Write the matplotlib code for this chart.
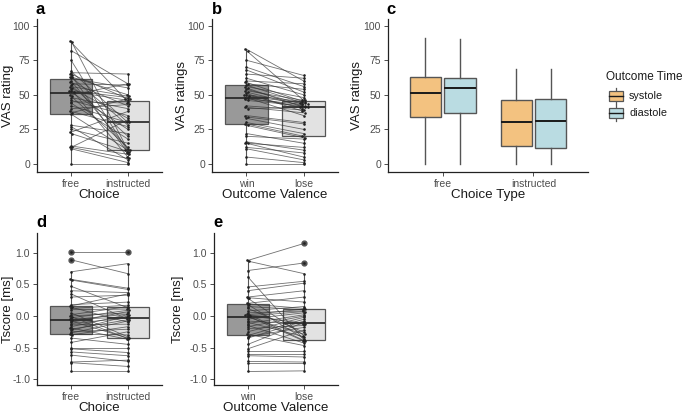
import numpy as np
import matplotlib
matplotlib.use("Agg")
import matplotlib.pyplot as plt
from matplotlib.patches import Rectangle

plt.rcParams['font.family'] = ['Liberation Sans', 'DejaVu Sans']

# ---------------- data ----------------
# Panel a: VAS rating, free vs instructed (paired)
a_free = [89, 88, 82, 75, 67, 66, 65, 64, 63, 63, 62, 60, 59, 58, 57, 56, 55, 54, 53, 52.5, 52,
          50, 49, 48, 46, 45, 44, 42, 40, 38, 37, 36, 28, 27, 25, 23, 22, 13, 12, 12, 11, 0]
a_instr = [10, 45, 58, 9, 30, 65, 47, 8, 50, 28, 55, 11, 42, 57, 20, 49, 33, 5, 48, 46, 25,
           58, 12, 40, 35, 44, 18, 30, 43, 27, 47, 10, 22, 3, 15, 38, 9, 7, 32, 4, 1, 0]
a_cats = ["free", "instructed"]

# Panel b: VAS ratings, win vs lose (paired)
b_win = [83, 82, 75, 70, 68, 65, 62, 60, 59, 58, 57, 56, 55, 54, 53, 52, 51, 50, 50, 49, 48,
         48, 47, 46, 42, 41, 40, 35, 34, 33, 30, 29, 28, 22, 20, 16, 15, 15, 12, 11, 5, 0]
b_lose = [60, 46, 64, 56, 52, 62, 50, 58, 45, 54, 44, 48, 41, 43, 46, 42, 38, 45, 40, 44, 41,
          35, 43, 42, 39, 37, 41, 30, 29, 25, 22, 20, 19, 15, 18, 10, 12, 5, 8, 3, 1, 0]
b_cats = ["win", "lose"]

# Panel c: box statistics by choice type and outcome time
c_cats = ["free", "instructed"]
c_groups = ["systole", "diastole"]
c_whislo = {"systole": [0, 0], "diastole": [0, 0]}
c_q1 = {"systole": [34, 13], "diastole": [36.5, 11.5]}
c_med = {"systole": [51, 30], "diastole": [55, 31]}
c_q3 = {"systole": [63, 46.5], "diastole": [62.5, 47]}
c_whishi = {"systole": [91, 68.5], "diastole": [90, 68.5]}

# Panel d: Tscore, free vs instructed (paired)
d_free = [1.01, 0.89, 0.70, 0.58, 0.57, 0.47, 0.40, 0.35, 0.30, 0.18, 0.16, 0.14, 0.12, 0.10,
          0.05, 0.02, 0.0, -0.01, -0.03, -0.05, -0.06, -0.08, -0.10, -0.12, -0.14, -0.17, -0.19,
          -0.21, -0.23, -0.25, -0.27, -0.29, -0.30, -0.35, -0.42, -0.50, -0.52, -0.57, -0.62,
          -0.73, -0.74, -0.88]
d_instr = [1.01, 0.67, 0.83, 0.44, 0.42, 0.13, 0.37, -0.05, 0.33, 0.22, 0.35, -0.10, 0.17, 0.11,
           -0.33, 0.15, 0.05, -0.36, 0.09, -0.02, 0.03, -0.35, 0.07, -0.03, -0.13, 0.02, -0.37,
           -0.06, 0.0, -0.21, -0.08, -0.30, -0.17, -0.45, -0.25, -0.50, -0.58, -0.63, -0.72,
           -0.70, -0.80, -0.88]

# Panel e: Tscore, win vs lose (paired)
e_win = [0.88, 0.87, 0.72, 0.62, 0.46, 0.40, 0.30, 0.29, 0.28, 0.20, 0.19, 0.18, 0.15, 0.12,
         0.08, 0.05, 0.03, 0.02, 0.01, 0.0, 0.0, -0.02, -0.05, -0.08, -0.10, -0.12, -0.15, -0.17,
         -0.20, -0.25, -0.29, -0.31, -0.33, -0.35, -0.45, -0.52, -0.55, -0.60, -0.63, -0.72,
         -0.75, -0.88]
e_lose = [1.15, 0.67, 0.84, -0.38, 0.55, 0.52, 0.40, 0.22, -0.31, 0.30, 0.12, -0.36, 0.10, -0.26,
          0.15, 0.08, -0.39, 0.11, -0.12, -0.40, 0.07, -0.29, 0.05, -0.13, -0.33, 0.02, -0.43,
          0.0, -0.15, -0.02, -0.47, -0.05, -0.18, -0.08, -0.10, -0.22, -0.55, -0.60, -0.65,
          -0.73, -0.75, -0.87]

# ---------------- layout ----------------
W, H = 685, 415
fig = plt.figure(figsize=(W / 100, H / 100), dpi=100)


def ax_at(l, r, t, b):
    return fig.add_axes([l / W, 1 - b / H, (r - l) / W, (b - t) / H])


TICK_C = "#4d4d4d"
BOX_FILLS = ["#999999", "#e2e2e2"]


def style(ax, ylabel, xlabel, cats, ylim, yticks, yticklabels, ylab_x):
    for s in ["top", "right"]:
        ax.spines[s].set_visible(False)
    for s in ["left", "bottom"]:
        ax.spines[s].set_color("#222222")
        ax.spines[s].set_linewidth(0.9)
    ax.set_xlim(0.4, 2.6)
    ax.set_ylim(*ylim)
    ax.set_xticks([1, 2])
    ax.set_xticklabels(cats)
    ax.set_yticks(yticks)
    ax.set_yticklabels(yticklabels)
    ax.tick_params(colors=TICK_C, labelsize=7.5, length=3, width=0.7, pad=2)
    ax.set_ylabel(ylabel, fontsize=9.5, color="#1a1a1a")
    ax.set_xlabel(xlabel, fontsize=9.6, color="#1a1a1a", labelpad=0)
    l = ax.get_position().x0 * W
    w = ax.get_position().width * W
    ax.yaxis.set_label_coords((ylab_x - l) / w, 0.5)


def dot_x(vals, center, binw, dx):
    vals = np.asarray(vals, float)
    bins = np.round(vals / binw).astype(int)
    xs = np.full(len(vals), float(center))
    for bval in np.unique(bins):
        idx = np.where(bins == bval)[0]
        k = len(idx)
        xs[idx] = center + (np.arange(k) - (k - 1) / 2) * dx
    return xs


def paired_panel(ax, v1, v2, binw):
    v1 = np.asarray(v1, float)
    v2 = np.asarray(v2, float)
    bp = ax.boxplot([v1, v2], positions=[1, 2], widths=0.75, patch_artist=True,
                    whis=1.5, showcaps=False,
                    flierprops=dict(marker="o", markersize=3.5, markerfacecolor="#555555",
                                    markeredgecolor="#555555"),
                    medianprops=dict(color="#222222", linewidth=1.2),
                    whiskerprops=dict(color="#555555", linewidth=0.8),
                    boxprops=dict(linewidth=0.9), zorder=1)
    for patch, fc in zip(bp["boxes"], BOX_FILLS):
        patch.set_facecolor(fc)
        patch.set_edgecolor("#555555")
    for a, b in zip(v1, v2):
        ax.plot([1, 2], [a, b], color="#333333", lw=0.6, alpha=0.7, zorder=3)
    x1 = dot_x(v1, 1, binw, 0.045)
    x2 = dot_x(v2, 2, binw, 0.045)
    ax.scatter(x1, v1, s=3.5, color="#222222", zorder=4, linewidths=0)
    ax.scatter(x2, v2, s=3.5, color="#222222", zorder=4, linewidths=0)


vas_ticks = [0, 25, 50, 75, 100]
vas_lbl = ["0", "25", "50", "75", "100"]
vas_lim = (-5.8, 104.8)
t_ticks = [-1.0, -0.5, 0.0, 0.5, 1.0]
t_lbl = ["-1.0", "-0.5", "0.0", "0.5", "1.0"]
t_lim = (-1.094, 1.315)

# Panel a
ax_a = ax_at(37, 162, 19, 172)
paired_panel(ax_a, a_free, a_instr, 1.5)
style(ax_a, "VAS rating", "Choice", a_cats, vas_lim, vas_ticks, vas_lbl, 14)

# Panel b
ax_b = ax_at(212, 338, 19, 172)
paired_panel(ax_b, b_win, b_lose, 1.5)
style(ax_b, "VAS ratings", "Outcome Valence", b_cats, vas_lim, vas_ticks, vas_lbl, 188)

# Panel d
ax_d = ax_at(37, 162, 233, 385)
paired_panel(ax_d, d_free, d_instr, 0.025)
style(ax_d, "Tscore [ms]", "Choice", a_cats, t_lim, t_ticks, t_lbl, 14)

# Panel e
ax_e = ax_at(214, 338, 233, 385)
paired_panel(ax_e, e_win, e_lose, 0.025)
style(ax_e, "Tscore [ms]", "Outcome Valence", b_cats, t_lim, t_ticks, t_lbl, 184)

# Panel c
ax_c = ax_at(388, 588, 19, 172)
c_colors = {"systole": "#f3c280", "diastole": "#badce2"}
offsets = {"systole": -0.19, "diastole": 0.19}
for g in c_groups:
    stats = []
    for i in range(len(c_cats)):
        stats.append(dict(whislo=c_whislo[g][i], q1=c_q1[g][i], med=c_med[g][i],
                          q3=c_q3[g][i], whishi=c_whishi[g][i], fliers=[]))
    pos = [i + 1 + offsets[g] for i in range(len(c_cats))]
    bp = ax_c.bxp(stats, positions=pos, widths=0.345, patch_artist=True, showcaps=False,
                  showfliers=False,
                  medianprops=dict(color="#1a1a1a", linewidth=1.4),
                  whiskerprops=dict(color="#555555", linewidth=1.0),
                  boxprops=dict(linewidth=1.0))
    for patch in bp["boxes"]:
        patch.set_facecolor(c_colors[g])
        patch.set_edgecolor("#555555")
style(ax_c, "VAS ratings", "Choice Type", c_cats, vas_lim, vas_ticks, vas_lbl, 363)

# Legend for panel c
fig.text(606 / W, 1 - 77 / H, "Outcome Time", fontsize=8.5, color="#1a1a1a",
         ha="left", va="center")
ax_l = ax_at(605, 685, 86, 124)
ax_l.set_xlim(0, 80)
ax_l.set_ylim(38, 0)
ax_l.axis("off")
for j, g in enumerate(c_groups):
    yc = 10 + j * 17.5
    ax_l.plot([11, 11], [yc - 8, yc + 8], color="#555555", lw=0.9)
    ax_l.add_patch(Rectangle((4, yc - 5), 14, 10, facecolor=c_colors[g],
                             edgecolor="#555555", lw=0.9, zorder=2))
    ax_l.plot([4, 18], [yc, yc], color="#1a1a1a", lw=1.0, zorder=3)
    ax_l.text(24, yc, g, fontsize=7.8, color="#1a1a1a", va="center", ha="left")

# Panel labels
for lbl, x, y in [("a", 36, 9), ("b", 212, 9), ("c", 386, 9), ("d", 36, 222), ("e", 213, 222)]:
    fig.text(x / W, 1 - y / H, lbl, fontsize=12, fontweight="bold", ha="left", va="center")

fig.savefig("out.png", dpi=100)
